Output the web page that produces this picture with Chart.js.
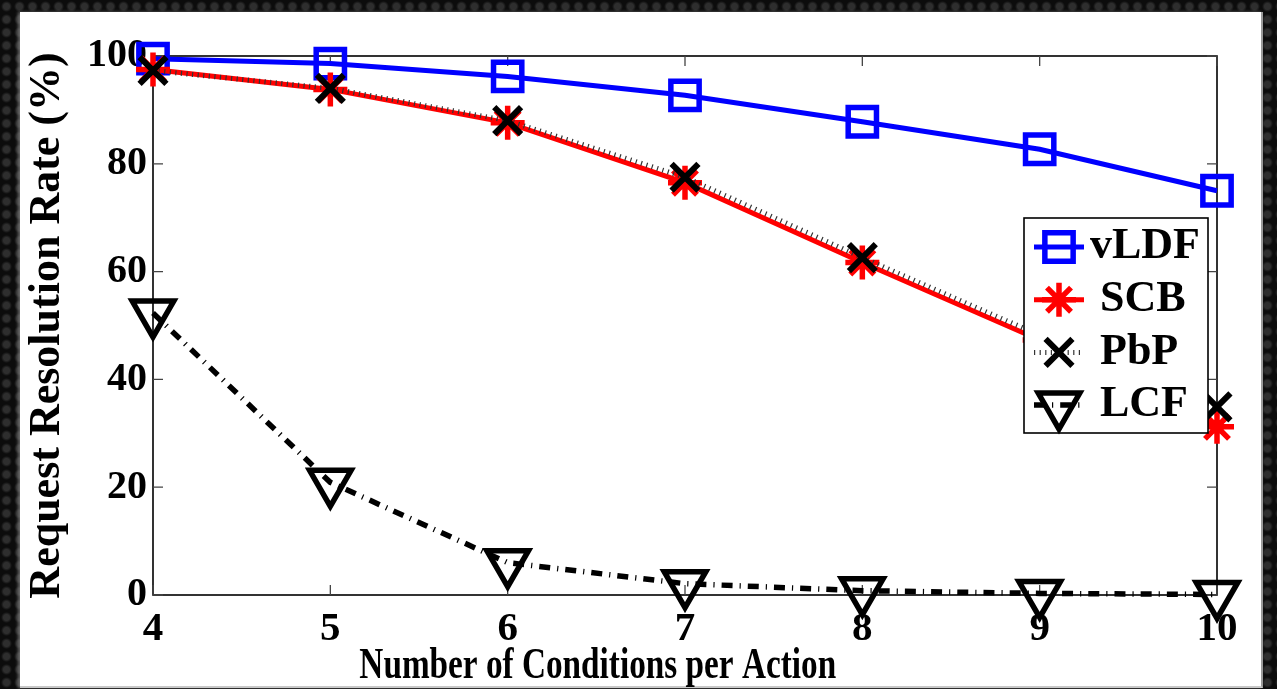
<!DOCTYPE html>
<html><head><meta charset="utf-8">
<script src="https://cdn.jsdelivr.net/npm/chart.js@4.4.1/dist/chart.umd.min.js"></script>
<style>
html,body{margin:0;padding:0;width:1277px;height:689px;overflow:hidden;}
body{background-color:#121212;background-image:radial-gradient(circle, #2e2e2e 0, #2e2e2e 3px, #0c0c0c 5.5px);background-size:13px 13px;position:relative;}
#paper{position:absolute;left:20px;top:12px;width:1241px;height:674px;background:#fff;border-right:2px solid #9a9a9a;border-bottom:2px solid #c8c8c8;box-shadow:-2px 0 3px rgba(140,140,140,0.7);}
#wrap{position:absolute;left:0;top:0;width:1277px;height:689px;}
</style></head><body>
<div id="paper"></div>
<div id="wrap"><canvas id="c" width="1277" height="689"></canvas></div>
<script>
// ---- data ----
const conditions = [4, 5, 6, 7, 8, 9, 10];
const vLDF = [99.5, 98.6, 96.2, 92.7, 87.8, 82.7, 75.0];
const SCB  = [97.5, 93.8, 87.6, 76.5, 61.7, 47.3, 31.2];
const PbP  = [97.3, 94.0, 88.0, 77.5, 62.6, 48.2, 34.9];
const LCF  = [52.3, 20.9, 6.0, 2.1, 0.8, 0.3, 0.1];
const seriesNames = ['vLDF', 'SCB', 'PbP', 'LCF'];
const xTicks = [4, 5, 6, 7, 8, 9, 10];
const yTicks = [0, 20, 40, 60, 80, 100];
const xTitle = 'Number of Conditions per Action';
const yTitle = 'Request Resolution Rate (%)';

const FONT = '"Liberation Serif", "Times New Roman", serif';
const pts = arr => conditions.map((c, i) => ({x: c, y: arr[i]}));

const datasets = [
  {label: seriesNames[0], data: pts(vLDF), borderColor: '#0000ff', borderWidth: 5,
   pointStyle: 'rect', pointRadius: 20, pointBorderWidth: 5.5, pointBorderColor: '#0000ff',
   pointBackgroundColor: 'rgba(0,0,0,0)', order: 2},
  {label: seriesNames[1], data: pts(SCB), borderColor: '#ff0000', borderWidth: 5,
   pointStyle: 'star', pointRadius: 17, pointBorderWidth: 5.5, pointBorderColor: '#ff0000',
   pointBackgroundColor: 'rgba(0,0,0,0)', order: 1},
  {label: seriesNames[2], data: pts(PbP), borderColor: '#333333', borderWidth: 5, borderDash: [1.2, 4.4],
   borderCapStyle: 'butt',
   pointStyle: 'crossRot', pointRadius: 19, pointBorderWidth: 6, pointBorderColor: '#000000',
   pointBackgroundColor: 'rgba(0,0,0,0)', order: 0},
  {label: seriesNames[3], data: pts(LCF), borderColor: '#000000', borderWidth: 5.5, borderDash: [11, 7, 1.2, 7],
   borderCapStyle: 'butt',
   pointStyle: 'triangle', pointRotation: 180, pointRadius: 24, pointBorderWidth: 5.5, pointBorderColor: '#000000',
   pointBackgroundColor: 'rgba(0,0,0,0)', order: 3}
];
datasets.forEach(d => { d.fill = false; d.tension = 0; d.clip = false; d.pointHoverRadius = d.pointRadius; });

const framePlugin = {
  id: 'frame',
  beforeDraw(chart) {
    const xs = chart.scales.x;
    if (xs && !xs._condensed) {
      const orig = xs.drawTitle;
      xs.drawTitle = function () {
        const ctx = this.ctx;
        const cx = (this.left + this.right) / 2;
        const target = this.left + (this.right - this.left) * 0.418;
        ctx.save();
        ctx.translate(target, 0);
        ctx.scale(0.756, 1);
        ctx.translate(-cx, 0);
        orig.apply(this, arguments);
        ctx.restore();
      };
      xs._condensed = true;
    }
  },
  beforeDatasetsDraw(chart) {
    const {ctx, chartArea: a, scales: {x, y}} = chart;
    ctx.save();
    ctx.strokeStyle = '#000';
    ctx.lineWidth = 1.6;
    ctx.strokeRect(a.left, a.top, a.right - a.left, a.bottom - a.top);
    ctx.strokeStyle = '#444';
    ctx.lineWidth = 1.3;
    const tl = 10;
    ctx.beginPath();
    x.ticks.forEach(t => {
      const px = x.getPixelForValue(t.value);
      ctx.moveTo(px, a.bottom); ctx.lineTo(px, a.bottom - tl);
      ctx.moveTo(px, a.top); ctx.lineTo(px, a.top + tl);
    });
    y.ticks.forEach(t => {
      const py = y.getPixelForValue(t.value);
      ctx.moveTo(a.left, py); ctx.lineTo(a.left + tl, py);
      ctx.moveTo(a.right, py); ctx.lineTo(a.right - tl, py);
    });
    ctx.stroke();
    ctx.restore();
  }
};

const legendPlugin = {
  id: 'boxLegend',
  afterDatasetsDraw(chart) {
    const {ctx, chartArea: a} = chart;
    const bx = a.right - 193, by = a.top + 162, bw = 184, bh = 215;
    ctx.save();
    ctx.fillStyle = '#fff';
    ctx.fillRect(bx, by, bw, bh);
    ctx.strokeStyle = '#000';
    ctx.lineWidth = 1.6;
    ctx.strokeRect(bx, by, bw, bh);
    const textX = [66, 76, 76, 76];
    chart.data.datasets.forEach((ds, i) => {
      const cy = by + 29 + i * 52.7;
      ctx.save();
      ctx.strokeStyle = ds.borderColor;
      ctx.lineWidth = ds.borderWidth;
      ctx.lineCap = 'butt';
      ctx.setLineDash(ds.borderDash || []);
      ctx.beginPath();
      ctx.moveTo(bx + 10, cy); ctx.lineTo(bx + 60, cy);
      ctx.stroke();
      ctx.setLineDash([]);
      ctx.strokeStyle = ds.pointBorderColor;
      ctx.fillStyle = 'rgba(0,0,0,0)';
      ctx.lineWidth = ds.pointBorderWidth;
      Chart.helpers.drawPoint(ctx, {pointStyle: ds.pointStyle, rotation: ds.pointRotation || 0,
        radius: ds.pointRadius, borderWidth: ds.pointBorderWidth}, bx + 35, cy);
      ctx.restore();
      ctx.fillStyle = '#000';
      ctx.font = 'bold 44px ' + FONT;
      ctx.textBaseline = 'middle';
      ctx.textAlign = 'left';
      ctx.fillText(ds.label, bx + textX[i], cy);
    });
    ctx.restore();
  }
};

new Chart(document.getElementById('c'), {
  type: 'line',
  data: {datasets},
  options: {
    responsive: false,
    animation: false,
    devicePixelRatio: 1,
    layout: {padding: {left: 0, top: 56, right: 60, bottom: 0}},
    plugins: {legend: {display: false}, tooltip: {enabled: false}},
    events: [],
    scales: {
      x: {
        type: 'linear', min: 4, max: 10,
        afterBuildTicks: s => { s.ticks = xTicks.map(v => ({value: v})); },
        afterFit: s => { s.height = 94; },
        grid: {display: false, drawTicks: false},
        border: {display: false},
        ticks: {color: '#000', font: {family: FONT, size: 41, weight: 'bold'}, padding: 10, maxRotation: 0, autoSkip: false},
        title: {display: true, text: xTitle, color: '#000', font: {family: FONT, size: 44, weight: 'bold', lineHeight: 1.0}, padding: {top: 0, bottom: 0}}
      },
      y: {
        min: 0, max: 100,
        afterBuildTicks: s => { s.ticks = yTicks.map(v => ({value: v})); },
        afterFit: s => { s.width = 153; },
        grid: {display: false, drawTicks: false},
        border: {display: false},
        ticks: {color: '#000', font: {family: FONT, size: 40, weight: 'bold'}, padding: 6},
        title: {display: true, text: yTitle, color: '#000', font: {family: FONT, size: 44, weight: 'bold', lineHeight: 1.0}, padding: {top: 26, bottom: 0}}
      }
    }
  },
  plugins: [framePlugin, legendPlugin]
});
</script>
</body></html>
